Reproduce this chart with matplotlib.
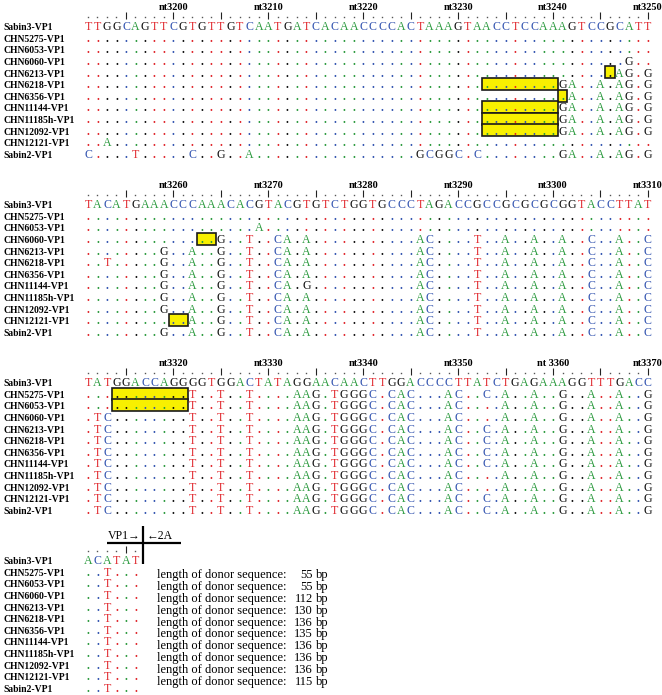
import matplotlib
matplotlib.use("Agg")
import matplotlib.pyplot as plt
from matplotlib.patches import Rectangle

# ---------------- data ----------------
strains = ["Sabin3-VP1", "CHN5275-VP1", "CHN6053-VP1", "CHN6060-VP1",
           "CHN6213-VP1", "CHN6218-VP1", "CHN6356-VP1", "CHN11144-VP1",
           "CHN11185h-VP1", "CHN12092-VP1", "CHN12121-VP1", "Sabin2-VP1"]

block_starts = [3191, 3251, 3311, 3371]

ref1 = "TTGGCAGTTCGTGTTGTCAATGATCACAACCCCACTAAAGTAACCTCCAAAGTCCGCATT"
ref2 = "TACATGAAACCCAAACACGTACGTGT" + "CTGGTGCCCTAGACCGCC" + "GCGCGCGGTACCTTAT"
ref3 = "TATGGACCAGGGGTGGACTATAGGAAC" + "AACTTGGACCCCTTATCTGAGAAAGGTTTGACC"
ref4 = "ACATAT"

b1_type = "." * 50 + "GA..A.AG.G"
block1 = [
    "." * 60,
    "." * 60,
    "." * 57 + "G..",
    "." * 56 + "AG.G",
    b1_type,
    "." * 51 + "A..A.AG.G",
    b1_type,
    b1_type,
    b1_type,
    "..A" + "." * 57,
    "C....T.....C..G..A" + "." * 17 + "GCGGC.C" + "." * 8 + "GA..A.AG.G",
]

b2_tail = "........." + "AC" + "...." + "T" + ".." + "A" + ".." + "A" + ".." + "A" + ".." + "C" + ".." + "A" + ".." + "C"
b2_head = "........G..A..G..T..CA.A.."
block2 = [
    "." * 60,
    "." * 18 + "A" + "." * 41,
    ".............." + "G..T..CA.A.." + b2_tail,
    b2_head + b2_tail,
    "..T.....G..A..G..T..CA.A.." + b2_tail,
    b2_head + b2_tail,
    "........G..A..G..T..CA.G.." + b2_tail,
    b2_head + b2_tail,
    b2_head + b2_tail,
    "..........." + "A..G..T..CA.A.." + b2_tail,
    b2_head + b2_tail,
]

b3_mid = "T..T..T....AAG.T"
b3_tail_c = "GGGC.CAC...AC..C.A..A..G..A..A..G"
b3_tail_n = "GGGC.CAC...AC....A..A..G..A..A..G"
block3 = [
    "..." + "." * 8 + b3_mid + b3_tail_c,
    "..." + "." * 8 + b3_mid + b3_tail_n,
    ".TC" + "." * 8 + b3_mid + b3_tail_n,
    ".TC" + "." * 8 + b3_mid + b3_tail_c,
    ".TC" + "." * 8 + b3_mid + b3_tail_c,
    ".TC" + "." * 8 + b3_mid + b3_tail_c,
    ".TC" + "." * 8 + b3_mid + b3_tail_c,
    ".TC" + "." * 8 + b3_mid + b3_tail_n,
    ".TC" + "." * 8 + b3_mid + b3_tail_n,
    ".TC" + "." * 8 + b3_mid + b3_tail_c,
    ".TC" + "." * 8 + b3_mid + b3_tail_c,
]

block4 = ["..T..."] * 11

refs = [ref1, ref2, ref3, ref4]
blocks = [block1, block2, block3, block4]

# position labels per block
pos_labels = [
    [(3200, "nt3200"), (3210, "nt3210"), (3220, "nt3220"), (3230, "nt3230"), (3240, "nt3240"), (3250, "nt3250")],
    [(3260, "nt3260"), (3270, "nt3270"), (3280, "nt3280"), (3290, "nt3290"), (3300, "nt3300"), (3310, "nt3310")],
    [(3320, "nt3320"), (3330, "nt3330"), (3340, "nt3340"), (3350, "nt3350"), (3360, "nt 3360"), (3370, "nt3370")],
    [],
]

# highlighted (recombination) boxes: (block, strain index, first nt, last nt)
boxes = [
    (0, 4, 3246, 3246), (0, 5, 3233, 3240), (0, 6, 3241, 3241),
    (0, 7, 3233, 3240), (0, 8, 3233, 3240), (0, 9, 3233, 3240),
    (1, 3, 3263, 3264), (1, 10, 3260, 3261),
    (2, 1, 3314, 3321), (2, 2, 3314, 3321),
]

donor_strains = strains[1:11]
donor_lengths = [55, 55, 112, 130, 136, 135, 136, 136, 136, 115]

# ---------------- style ----------------
base_colors = {"T": "#e0252b", "A": "#2b9a3e", "C": "#3354b0", "G": "#111111"}
SERIF = ["Liberation Serif", "DejaVu Serif"]

col_px = 9.49
row_px = 11.6
x0_px, y0_px = 88.0, 26.0
W, H = 662, 695
block_gap = 178.0 / row_px

fig = plt.figure(figsize=(W / 100, H / 100), dpi=100)
ax = fig.add_axes([0, 0, 1, 1])
ax.set_xlim(-x0_px / col_px, (W - x0_px) / col_px)
ax.set_ylim((H - y0_px) / row_px, -y0_px / row_px)
ax.axis("off")

name_x = (3 - x0_px) / col_px
bl = 0.37  # baseline offset (rows)

for b, (start, ref, rows) in enumerate(zip(block_starts, refs, blocks)):
    r0 = b * block_gap
    # ruler
    for c in range(len(ref)):
        nt = start + c
        if nt % 5 == 0:
            ax.vlines(c, r0 - 1.17, r0 - 0.58, color="#222222", lw=0.8)
        else:
            ax.plot(c, r0 - 0.80, marker="s", ms=1.0, color="#555555", mew=0)
    for nt, txt in pos_labels[b]:
        ax.text(nt - start, r0 - 1.38, txt, ha="center", va="baseline",
                fontsize=7.5, fontweight="bold", family=SERIF)
    # boxes
    for (bb, si, a, z) in boxes:
        if bb != b:
            continue
        ax.add_patch(Rectangle((a - start - 0.5, r0 + si - 0.52), z - a + 1, 1.04,
                               facecolor="#f8f000", edgecolor="#1a1a1a", lw=1.2, zorder=1))
    # rows
    seqs = [ref] + rows
    for i, (name, seq) in enumerate(zip(strains, seqs)):
        r = r0 + i
        ax.text(name_x, r + bl, name, ha="left", va="baseline", fontsize=6.9,
                fontweight="bold", family=SERIF)
        for c, ch in enumerate(seq):
            colr = base_colors[ref[c]] if ch == "." else base_colors[ch]
            ax.text(c, r + bl, ch, ha="center", va="baseline", fontsize=8.6,
                    color=colr, family=SERIF, zorder=3,
                    fontweight="bold" if ch == "." else "normal")

# VP1 / 2A junction marker
r4 = 3 * block_gap
ax.vlines(5.8, r4 - 2.95, r4 + 0.35, color="black", lw=1.6)
ax.hlines(r4 - 1.47, 2.0, 9.8, color="black", lw=1.6)
ax.text(2.1, r4 - 1.85, "VP1\u2192", ha="left", va="baseline", fontsize=8.5, family=SERIF)
ax.text(6.2, r4 - 1.85, "\u21902A", ha="left", va="baseline", fontsize=8.5, family=SERIF)

# donor lengths
tx = (157 - x0_px) / col_px
nx = (313 - x0_px) / col_px
bx = (315.5 - x0_px) / col_px
for i, L in enumerate(donor_lengths):
    r = r4 + 1 + i * 1.025 + 0.15 + 0.4
    ax.text(tx, r, "length of donor sequence:", ha="left", va="baseline", fontsize=9, family=SERIF)
    ax.text(nx, r, str(L), ha="right", va="baseline", fontsize=9, family=SERIF)
    ax.text(bx, r, "bp", ha="left", va="baseline", fontsize=9, family=SERIF)

fig.savefig("out.png", dpi=100)
